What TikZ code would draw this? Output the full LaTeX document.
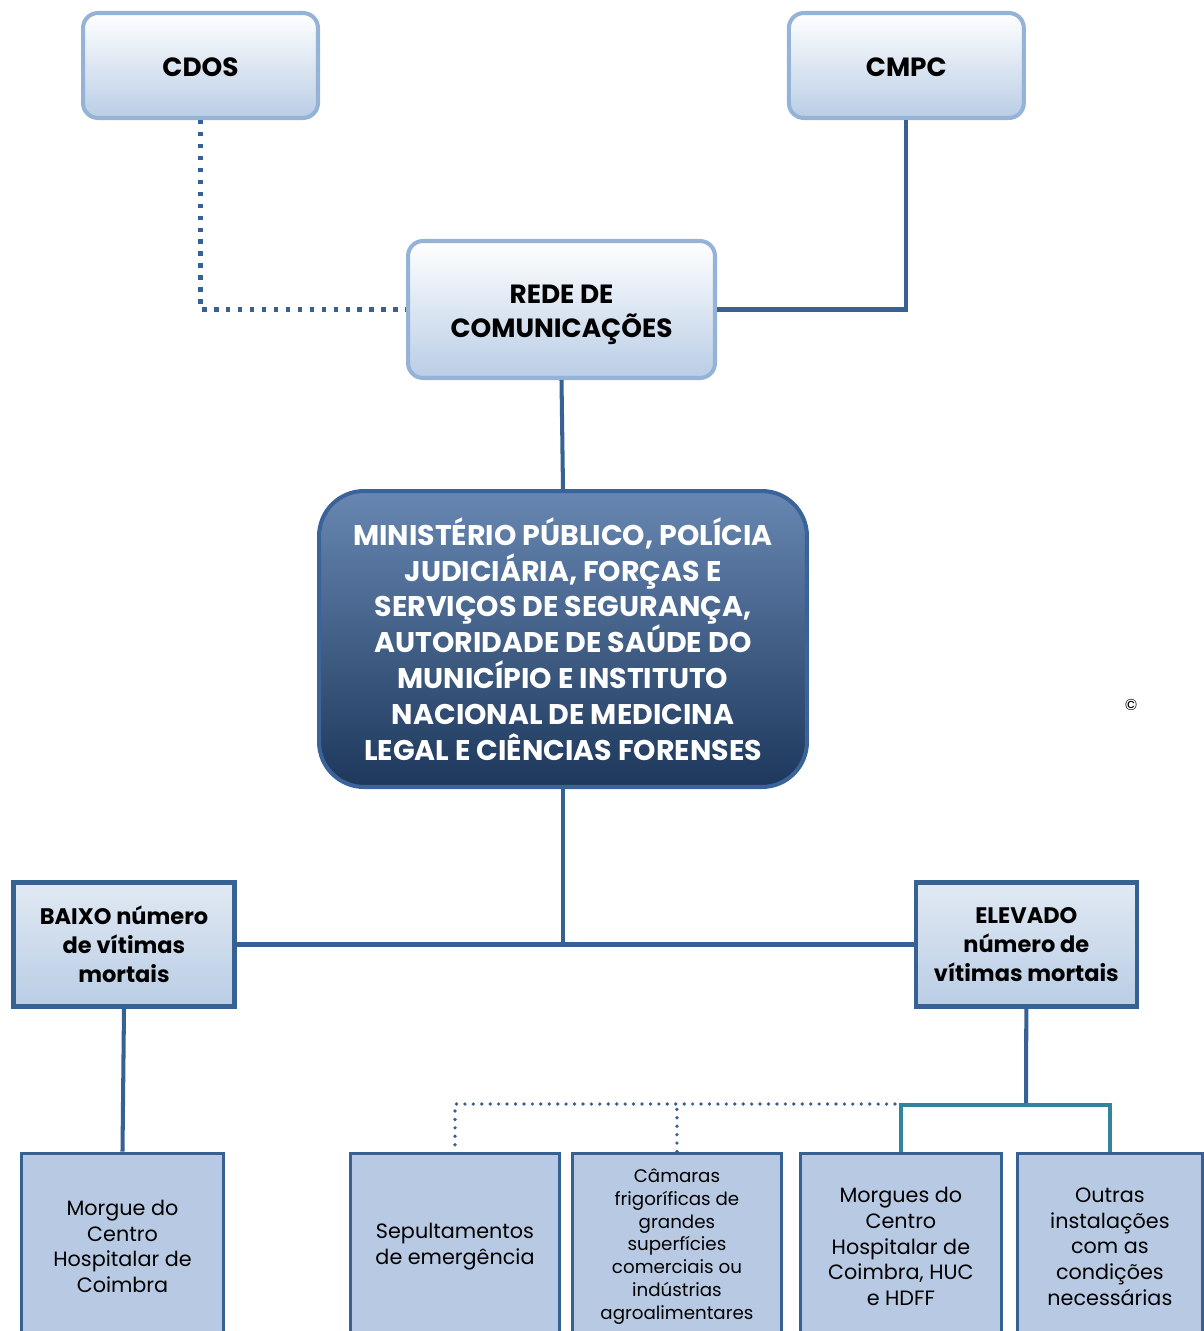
\documentclass[tikz,border=0pt]{standalone}
\usepackage{fontspec}
\setmainfont{Poppins}
\usetikzlibrary{positioning}

\definecolor{linkblue}{HTML}{386193}
\definecolor{paleedge}{HTML}{95B3D7}
\definecolor{paleblue}{HTML}{B9CDE5}
\definecolor{leveltop}{HTML}{E1E9F3}
\definecolor{leafblue}{HTML}{B8CAE3}
\definecolor{mptop}{HTML}{6787B2}
\definecolor{mpbottom}{HTML}{1E385C}
\definecolor{mpedge}{HTML}{3A6499}
\definecolor{tealline}{HTML}{31849B}

\newcommand{\lowtext}[2][3pt]{\raisebox{-#1}[\height][\depth]{#2}}

\tikzset{
  topbox/.style={draw=paleedge, line width=2.3pt, rounded corners=0.3cm,
    top color=white, bottom color=paleblue, align=center,
    font=\bfseries\fontsize{15}{19}\selectfont},
  mainbox/.style={draw=mpedge, line width=2.3pt, rounded corners=0.9cm,
    top color=mptop, bottom color=mpbottom, text=white, align=center,
    minimum width=9.76cm, minimum height=5.92cm,
    font=\bfseries\fontsize{16.2}{20.4}\selectfont},
  levelbox/.style={draw=linkblue, line width=2.6pt, top color=leveltop,
    bottom color=paleblue, align=center, minimum width=4.42cm,
    minimum height=2.48cm, font=\bfseries\fontsize{12.8}{16.4}\selectfont},
  leafbox/.style={draw=linkblue, line width=1.7pt, fill=leafblue,
    align=center, minimum height=3.74cm, font=\fontsize{11.8}{14.6}\selectfont},
  link/.style={draw=linkblue, line width=2.3pt},
  dashlink/.style={draw=linkblue, line width=2.3pt, dash pattern=on 2.5pt off 4.3pt},
  dotlink/.style={draw=linkblue, line width=2.1pt, line cap=round, dash pattern=on 0pt off 4.8pt},
  teallink/.style={draw=tealline, line width=2.3pt}
}

\begin{document}
\begin{tikzpicture}[x=0.02cm, y=-0.02cm]
  \useasboundingbox (0,0) rectangle (1203,1331);

  % top level
  \node[topbox, minimum width=4.7cm, minimum height=2.1cm] (cdos) at (200.5,65.5) {\lowtext[1pt]{CDOS}};
  \node[topbox, minimum width=4.7cm, minimum height=2.1cm] (cmpc) [right of=cdos, node distance=14.12cm] {\lowtext[1pt]{CMPC}};
  \node[topbox, minimum width=6.14cm, minimum height=2.74cm] (rede) at (561.5,309.5) {\lowtext{REDE DE}\\\lowtext{COMUNICAÇÕES}};

  \node[mainbox] (mp) at (563,639) {MINISTÉRIO PÚBLICO, POLÍCIA\\JUDICIÁRIA, FORÇAS E\\SERVIÇOS DE SEGURANÇA,\\AUTORIDADE DE SAÚDE DO\\MUNICÍPIO E INSTITUTO\\NACIONAL DE MEDICINA\\LEGAL E CIÊNCIAS FORENSES};

  \node[font=\fontsize{9}{10}\selectfont] (copy) at (1131,705) {©};

  % victims
  \node[levelbox] (baixo) at (124,944.5) {BAIXO número\\de vítimas\\mortais};
  \node[levelbox] (elevado) [right of=baixo, node distance=18.05cm] {ELEVADO\\número de\\vítimas mortais};

  % places
  \node[leafbox, minimum width=4.04cm] (morgue) at (122.5,1246.5) {Morgue do\\Centro\\Hospitalar de\\Coimbra};
  \node[leafbox, minimum width=4.18cm] (sepult) at (455,1246.5) {Sepultamentos\\de emergência};
  \node[leafbox, minimum width=4.18cm, font=\fontsize{10.4}{13}\selectfont] (camaras) [right of=sepult, node distance=4.44cm] {Câmaras\\frigoríficas de\\grandes\\superfícies\\comerciais ou\\indústrias\\agroalimentares};
  \node[leafbox, minimum width=4.02cm] (morgues) [right of=camaras, node distance=4.48cm] {Morgues do\\Centro\\Hospitalar de\\Coimbra, HUC\\e HDFF};
  \node[leafbox, minimum width=3.7cm] (outras) [right of=morgues, node distance=4.18cm] {Outras\\instalações\\com as\\condições\\necessárias};

  \coordinate (split) at (1026,1105);
  \coordinate (dotend) at (895,1104);

  \draw[dashlink] (cdos.south) |- (rede.west);
  \draw[link] (cmpc.south) |- (rede.east);
  \draw[link] (rede.south) -- (mp.north);
  \draw[link] (mp.south) -- (mp.south |- baixo.east);
  \draw[link] (baixo.east) -- (elevado.west);
  \draw[link] (baixo.south) -- (morgue.north);
  \draw[link] (elevado.south) -- (split);
  \draw[teallink] (morgues.north) |- (split) -| (outras.north);
  \draw[dotlink] (dotend) -| (sepult.north);
  \draw[dotlink] (camaras.north) -- (camaras.north |- dotend);
\end{tikzpicture}
\end{document}
